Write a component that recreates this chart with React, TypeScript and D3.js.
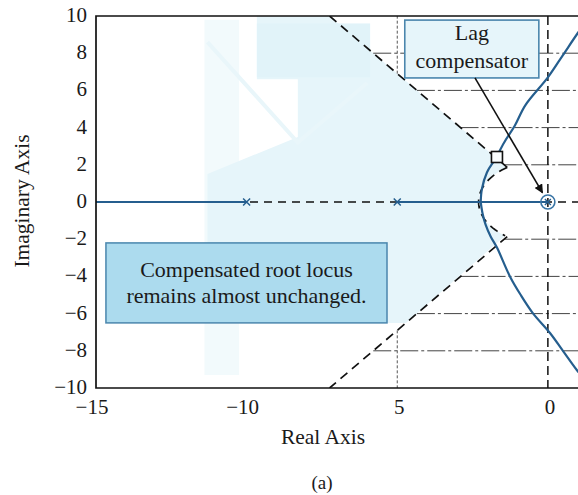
import React, { useRef, useEffect } from 'react';
import * as d3 from 'd3';

type Pt = [number, number];

// axis ticks
const xTicks = [-15, -10, -5, 0];
const xTickLabels = ['\u221215', '\u221210', '5', '0'];
const yTicks = [10, 8, 6, 4, 2, 0, -2, -4, -6, -8, -10];
const yTickLabels = ['10', '8', '6', '4', '2', '0', '\u22122', '\u22124', '\u22126', '\u22128', '\u221210'];

// open-loop poles on the real axis (x markers)
const openLoopPoles = [-10, -5];
// lag compensator pole/zero pair near the origin (circled)
const lagPoleZero: Pt = [0, 0];

// root locus branches (re, im)
const realAxisSegments: Pt[][] = [
  [[-15, 0], [-10, 0]],
  [[-5, 0], [0, 0]],
];
const upperBranch: Pt[] = [
  [-2.23, 0], [-2.19, 0.7], [-2.02, 1.6], [-1.75, 2.3], [-1.45, 3.2],
  [-1.1, 4.1], [-0.75, 5.2], [0, 6.7], [0.5, 7.9], [1.0, 9.1], [1.2, 9.55],
];
const lowerBranch: Pt[] = [
  [-2.23, 0], [-2.17, -0.6], [-2.07, -1.2], [-1.9, -1.85], [-1.69, -2.45],
  [-1.26, -4.0], [-0.9, -5.0], [-0.5, -5.97], [0.07, -7.04], [0.5, -8.0],
  [0.96, -9.03], [1.2, -9.5],
];

// design point on the locus (square marker)
const designPoint: Pt = [-1.69, 2.42];

// design region boundary: damping lines |Im|/|Re| and natural frequency circle
const zetaSlope = 1.38;
const wnRadius = 2.3;
const gridIm = [8, 6, 4, 2, -2, -4, -6, -8];
const gridRe = [-5];

// faint shaded region (left edge, from lower boundary back up to the top)
const shadeLeftEdge: Pt[] = [
  [-4.71, -6.5], [-8.5, -6.5], [-8.5, -2.2], [-11.3, -2.2], [-11.3, 1.5],
  [-8.3, 3.5], [-8.3, 6.6], [-9.66, 6.6], [-9.66, 10],
];
const ghostBand: Pt[] = [[-11.4, 9.8], [-10.25, -9.3]];
const ghostBox: Pt[] = [[-9.66, 9.6], [-5.9, 6.7]];
const ghostLines: Pt[][] = [
  [[-11.3, 8.6], [-8.3, 3.2], [-6.0, 6.4]],
];

const W = 578;
const H = 495;

const App: React.FC = () => {
  const svgRef = useRef<SVGSVGElement | null>(null);

  useEffect(() => {
    const svg = d3.select(svgRef.current);
    svg.selectAll('*').remove();

    const x = d3.scaleLinear().domain([-15, 1]).range([96, 578]);
    const y = d3.scaleLinear().domain([-10, 10]).range([388, 16]);
    const font = "'Liberation Serif', 'DejaVu Serif', serif";
    const locusColor = '#255e8e';
    const boxStroke = '#4a86ad';

    const line = d3.line<Pt>().x(d => x(d[0])).y(d => y(d[1]));
    const smooth = d3.line<Pt>().x(d => x(d[0])).y(d => y(d[1])).curve(d3.curveCatmullRom.alpha(0.5));

    const defs = svg.append('defs');
    defs.append('clipPath').attr('id', 'plot-clip')
      .append('rect')
      .attr('x', x(-15)).attr('y', y(10))
      .attr('width', x(1) - x(-15)).attr('height', y(-10) - y(10));
    defs.append('marker')
      .attr('id', 'arrow-head')
      .attr('viewBox', '0 0 10 10')
      .attr('refX', 9).attr('refY', 5)
      .attr('markerWidth', 9).attr('markerHeight', 9)
      .attr('markerUnits', 'userSpaceOnUse')
      .attr('orient', 'auto')
      .append('path').attr('d', 'M0,0 L10,5 L0,10 Z').attr('fill', '#111');

    const g = svg.append('g').attr('clip-path', 'url(#plot-clip)');

    // boundary of the design region
    const zetaRe = -wnRadius / Math.sqrt(1 + zetaSlope * zetaSlope);
    const th1 = Math.atan2(-zetaRe * zetaSlope, zetaRe);
    const arcPts: Pt[] = d3.range(th1, 2 * Math.PI - th1 + 1e-6, 0.05)
      .map(t => [wnRadius * Math.cos(t), wnRadius * Math.sin(t)] as Pt);
    const topPt: Pt = [-10 / zetaSlope, 10];
    const botPt: Pt = [-10 / zetaSlope, -10];

    // faint show-through shading
    g.append('rect')
      .attr('x', x(ghostBand[0][0])).attr('y', y(ghostBand[0][1]))
      .attr('width', x(ghostBand[1][0]) - x(ghostBand[0][0]))
      .attr('height', y(ghostBand[1][1]) - y(ghostBand[0][1]))
      .attr('fill', '#f2fafc');
    const shadePoly: Pt[] = [topPt, ...arcPts, ...shadeLeftEdge, topPt];
    g.append('path')
      .attr('d', line(shadePoly)!)
      .attr('fill', '#e6f5fa');
    g.append('rect')
      .attr('x', x(ghostBox[0][0])).attr('y', y(ghostBox[0][1]))
      .attr('width', x(ghostBox[1][0]) - x(ghostBox[0][0]))
      .attr('height', y(ghostBox[1][1]) - y(ghostBox[0][1]))
      .attr('fill', '#e1f3f9');
    ghostLines.forEach(l => {
      g.append('path').attr('d', line(l)!)
        .attr('fill', 'none').attr('stroke', '#e9f6fa').attr('stroke-width', 4);
    });

    // grid lines outside the design region
    gridIm.forEach(k => {
      g.append('line')
        .attr('x1', x(-Math.abs(k) / zetaSlope)).attr('x2', x(1))
        .attr('y1', y(k)).attr('y2', y(k))
        .attr('stroke', '#444').attr('stroke-width', 1)
        .attr('stroke-dasharray', '18,3,3,3');
    });
    gridRe.forEach(r => {
      [[Math.abs(r) * zetaSlope, 10], [-Math.abs(r) * zetaSlope, -10]].forEach(([a, b]) => {
        g.append('line')
          .attr('x1', x(r)).attr('x2', x(r))
          .attr('y1', y(a)).attr('y2', y(b))
          .attr('stroke', '#555').attr('stroke-width', 1)
          .attr('stroke-dasharray', '3,2');
      });
    });

    // real and imaginary axis dashed lines
    g.append('line')
      .attr('x1', x(-15)).attr('x2', x(1)).attr('y1', y(0)).attr('y2', y(0))
      .attr('stroke', '#111').attr('stroke-width', 1.5).attr('stroke-dasharray', '8,6');
    g.append('line')
      .attr('x1', x(0)).attr('x2', x(0)).attr('y1', y(10)).attr('y2', y(-10))
      .attr('stroke', '#111').attr('stroke-width', 1.5).attr('stroke-dasharray', '9,5');

    // dashed design boundary
    const upperZeta: Pt[] = [topPt, [zetaRe, -zetaRe * zetaSlope]];
    const lowerZeta: Pt[] = [[zetaRe, zetaRe * zetaSlope], botPt];
    [upperZeta, arcPts, lowerZeta].forEach(p => {
      g.append('path').attr('d', line(p)!)
        .attr('fill', 'none').attr('stroke', '#111').attr('stroke-width', 1.7)
        .attr('stroke-dasharray', '9,6');
    });

    // root locus
    realAxisSegments.forEach(s => {
      g.append('path').attr('d', line(s)!)
        .attr('fill', 'none').attr('stroke', locusColor).attr('stroke-width', 2.2);
    });
    [upperBranch, lowerBranch].forEach(b => {
      g.append('path').attr('d', smooth(b)!)
        .attr('fill', 'none').attr('stroke', locusColor).attr('stroke-width', 2.2);
    });

    // pole markers
    openLoopPoles.forEach(p => {
      const cx = x(p), cy = y(0), s = 3.5;
      g.append('path')
        .attr('d', `M${cx - s},${cy - s}L${cx + s},${cy + s}M${cx - s},${cy + s}L${cx + s},${cy - s}`)
        .attr('stroke', locusColor).attr('stroke-width', 1.5);
    });
    const cx0 = x(lagPoleZero[0]), cy0 = y(lagPoleZero[1]);
    g.append('circle').attr('cx', cx0).attr('cy', cy0).attr('r', 7)
      .attr('fill', 'none').attr('stroke', '#3a75a5').attr('stroke-width', 1.6);
    g.append('path')
      .attr('d', `M${cx0 - 3},${cy0 - 3}L${cx0 + 3},${cy0 + 3}M${cx0 - 3},${cy0 + 3}L${cx0 + 3},${cy0 - 3}`)
      .attr('stroke', locusColor).attr('stroke-width', 1.3);

    // design point square
    g.append('rect')
      .attr('x', x(designPoint[0]) - 5.5).attr('y', y(designPoint[1]) - 5.5)
      .attr('width', 11).attr('height', 11)
      .attr('fill', '#fafdfe').attr('stroke', '#111').attr('stroke-width', 1.6);

    // frame
    svg.append('path')
      .attr('d', `M${x(1)},${y(10)}H${x(-15)}V${y(-10)}H${x(1)}`)
      .attr('fill', 'none').attr('stroke', '#111').attr('stroke-width', 1.7);

    const addText = (tx: number, ty: number, s: string, size: number, anchor = 'middle') =>
      svg.append('text').attr('x', tx).attr('y', ty)
        .attr('text-anchor', anchor)
        .style('font-family', font).style('font-size', `${size}px`)
        .attr('fill', '#1a1a1a')
        .text(s);

    // tick labels
    xTicks.forEach((d, i) => {
      addText(x(d) + (d < -5 ? -4 : 2), 414, xTickLabels[i], 21);
    });
    yTicks.forEach((d, i) => {
      addText(87, y(d) + 6, yTickLabels[i], 21, 'end');
    });

    // axis titles
    addText(323, 444, 'Real Axis', 21.5);
    svg.append('text')
      .attr('transform', 'translate(29,201) rotate(-90)')
      .attr('text-anchor', 'middle')
      .style('font-family', font).style('font-size', '21.5px')
      .attr('fill', '#1a1a1a')
      .text('Imaginary Axis');
    addText(322, 489, '(a)', 19);

    // "Lag compensator" annotation
    const lagBox = { x0: -4.75, x1: -0.3, y0: 9.78, y1: 6.67 };
    svg.append('rect')
      .attr('x', x(lagBox.x0)).attr('y', y(lagBox.y0))
      .attr('width', x(lagBox.x1) - x(lagBox.x0)).attr('height', y(lagBox.y1) - y(lagBox.y0))
      .attr('fill', '#e6f5fa').attr('stroke', boxStroke).attr('stroke-width', 1.6);
    const lagCx = (x(lagBox.x0) + x(lagBox.x1)) / 2;
    addText(lagCx, 40, 'Lag', 22);
    addText(lagCx, 68, 'compensator', 22);
    svg.append('line')
      .attr('x1', x(-2.42)).attr('y1', y(6.67))
      .attr('x2', x(-0.18)).attr('y2', y(0.5))
      .attr('stroke', '#111').attr('stroke-width', 1.6)
      .attr('marker-end', 'url(#arrow-head)');

    // "Compensated root locus" annotation
    const noteBox = { x0: -14.67, x1: -5.34, y0: -2.2, y1: -6.5 };
    svg.append('rect')
      .attr('x', x(noteBox.x0)).attr('y', y(noteBox.y0))
      .attr('width', x(noteBox.x1) - x(noteBox.x0)).attr('height', y(noteBox.y1) - y(noteBox.y0))
      .attr('fill', '#acdbee').attr('stroke', boxStroke).attr('stroke-width', 1.5);
    const noteCx = (x(noteBox.x0) + x(noteBox.x1)) / 2;
    addText(noteCx, 277, 'Compensated root locus', 22);
    addText(noteCx, 303, 'remains almost unchanged.', 22);
  }, []);

  return (
    <svg
      ref={svgRef}
      width={W}
      height={H}
      style={{ position: 'absolute', left: 0, top: 0, background: '#fff' }}
    />
  );
};

export default App;
